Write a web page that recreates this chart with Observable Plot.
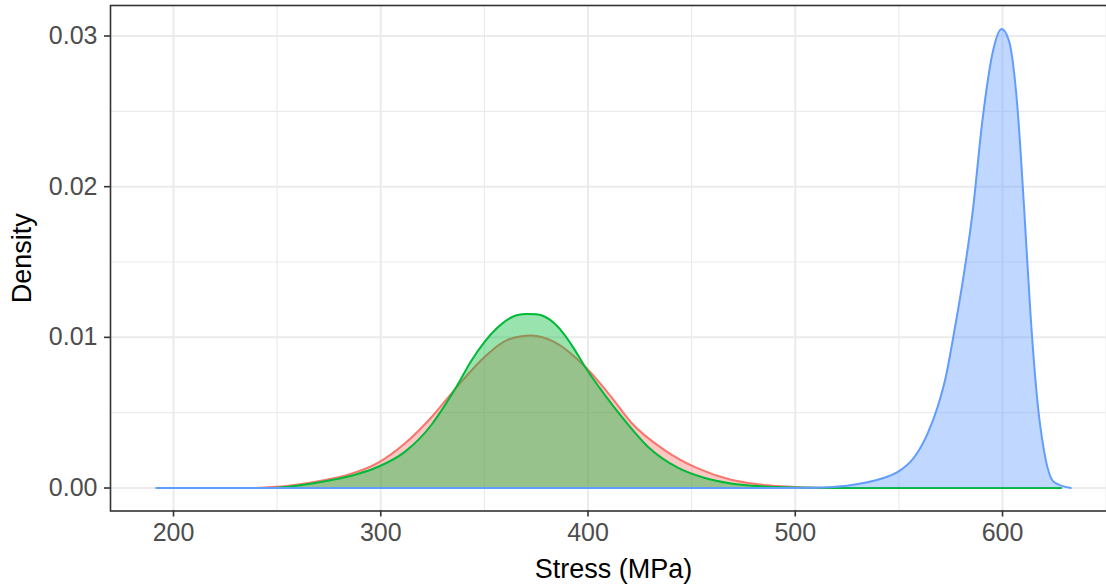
<!DOCTYPE html>
<html>
<head>
<meta charset="utf-8">
<script src="https://cdn.jsdelivr.net/npm/d3@7"></script>
<script src="https://cdn.jsdelivr.net/npm/@observablehq/plot@0.6"></script>
<style>
  html, body { margin: 0; padding: 0; background: #ffffff; }
  #chart { width: 1106px; height: 586px; overflow: hidden; }
</style>
</head>
<body>
<div id="chart"></div>
<script>
// ---- data ----
const redX = [238.7, 250, 260.2, 272, 284.3, 298.8, 311.6, 324.5, 337.3, 350.1, 361.4, 372.7, 383.9, 398.3, 411.2, 420.8, 436.9, 453.0, 469.0, 481, 493.1, 505, 515];
const redY = [0, 0.00008, 0.00024, 0.0005, 0.00088, 0.00168, 0.00295, 0.0047, 0.0068, 0.0087, 0.00985, 0.01013, 0.00969, 0.0081, 0.00605, 0.00435, 0.00252, 0.0013, 0.00055, 0.00027, 0.00012, 0.00004, 0];

const greenX = [248.3, 262, 276.3, 288, 298.8, 311.6, 324.5, 331, 337.3, 343.5, 350.1, 356, 361.4, 366, 370.5, 375, 379.5, 384, 388.5, 393, 398.3, 408.0, 417.6, 428.9, 443.3, 456, 469.0, 485, 500, 520, 628.3];
const greenY = [0, 0.0002, 0.00053, 0.0009, 0.00141, 0.0024, 0.0042, 0.0055, 0.0069, 0.0084, 0.0097, 0.0106, 0.0112, 0.01148, 0.01155, 0.01153, 0.01135, 0.0109, 0.0102, 0.0093, 0.0081, 0.0062, 0.0045, 0.00274, 0.00135, 0.00068, 0.0003, 0.0001, 0.00003, 0, 0];

const blueX = [191.7, 490, 510.8, 525, 534.9, 542.9, 549.3, 557.4, 563.8, 568.6, 572.6, 576.6, 581.4, 585.5, 590.3, 595.1, 599.6, 603.1, 607.2, 610.4, 613.6, 616.8, 620.0, 624.8, 632.9];
const blueY = [0, 0, 0.00002, 0.00015, 0.00038, 0.00068, 0.00105, 0.00204, 0.0036, 0.00534, 0.00735, 0.01029, 0.01423, 0.01821, 0.02439, 0.02881, 0.03047, 0.02969, 0.02527, 0.01863, 0.01133, 0.00581, 0.0025, 0.0004, 0];

const seriesNames = ["red", "green", "blue"];
const seriesColors = ["#F8766D", "#00BA38", "#619CFF"];

const majorX = [200, 300, 400, 500, 600];
const minorX = [250, 350, 450, 550, 650];
const majorY = [0, 0.01, 0.02, 0.03];
const minorY = [0.005, 0.015, 0.025];
const xTitle = ["Stress (MPa)"];
const yTitle = ["Density"];

// ---- build series ----
const seriesData = [
  redX.map((x, i) => ({x, y: redY[i]})),
  greenX.map((x, i) => ({x, y: greenY[i]})),
  blueX.map((x, i) => ({x, y: blueY[i]}))
];

const densityMarks = seriesData.flatMap((d, i) => [
  Plot.areaY(d, {x: "x", y: "y", fill: seriesColors[i], fillOpacity: 0.4, curve: "monotone-x"}),
  Plot.lineY(d, {x: "x", y: "y", stroke: seriesColors[i], strokeWidth: 2, curve: "monotone-x"})
]);

const chart = Plot.plot({
  width: 1106,
  height: 586,
  marginLeft: 110,
  marginRight: -10,
  marginTop: 5,
  marginBottom: 75.5,
  x: {domain: [169.6, 655]},
  y: {domain: [-0.001525, 0.032025]},
  style: {fontFamily: "'Liberation Sans', Arial, sans-serif", background: "#ffffff", overflow: "hidden"},
  marks: [
    Plot.ruleX(minorX, {stroke: "#EBEBEB", strokeWidth: 1.2}),
    Plot.ruleY(minorY, {stroke: "#EBEBEB", strokeWidth: 1.2}),
    Plot.ruleX(majorX, {stroke: "#EBEBEB", strokeWidth: 2}),
    Plot.ruleY(majorY, {stroke: "#EBEBEB", strokeWidth: 2}),
    ...densityMarks,
    Plot.frame({stroke: "#333333", strokeWidth: 1.6}),
    Plot.axisX({ticks: majorX, tickSize: 6, tickPadding: 6, fontSize: 25, stroke: "#333333", strokeWidth: 1.6, fill: "#4D4D4D", label: null}),
    Plot.axisY({ticks: majorY, tickFormat: d3.format(".2f"), tickSize: 6, tickPadding: 7, fontSize: 25, stroke: "#333333", strokeWidth: 1.6, fill: "#4D4D4D", label: null}),
    Plot.text(xTitle, {frameAnchor: "bottom", dy: 58, fontSize: 27, fill: "#000000", lineAnchor: "middle", textAnchor: "middle"}),
    Plot.text(yTitle, {frameAnchor: "left", dx: -88, rotate: -90, fontSize: 27, fill: "#000000", lineAnchor: "middle", textAnchor: "middle"})
  ]
});

document.getElementById("chart").appendChild(chart);
</script>
</body>
</html>
